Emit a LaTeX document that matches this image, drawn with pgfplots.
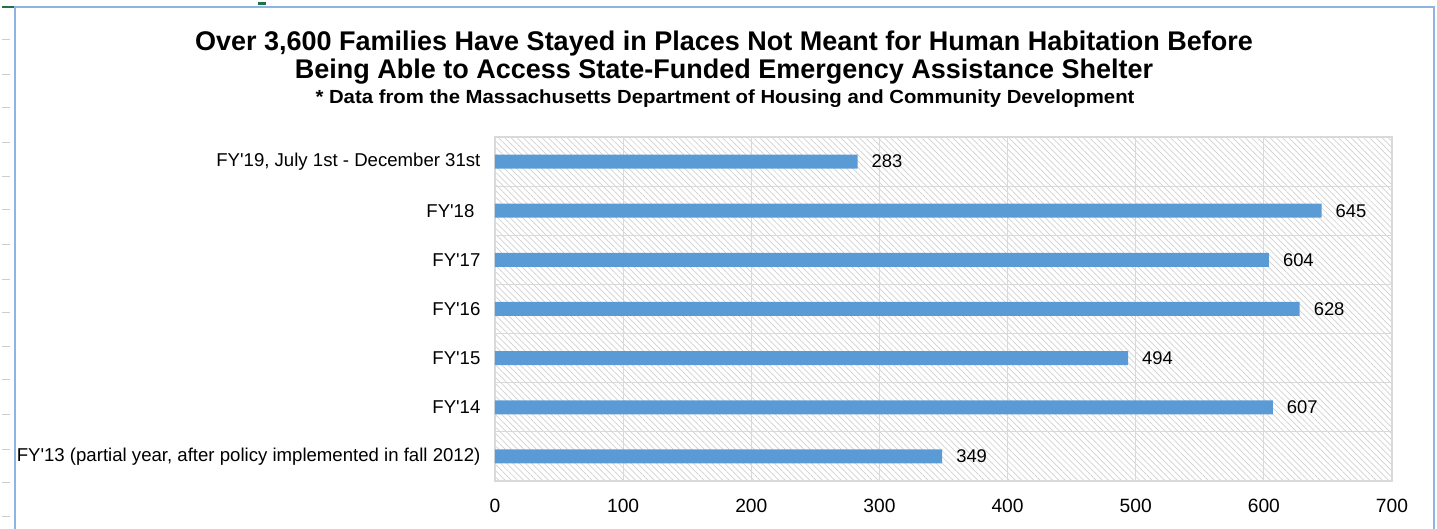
\documentclass[border=0pt]{standalone}
\usepackage{pgfplots}
\pgfplotsset{compat=1.18}
\usepackage{fontspec}
\setmainfont{Liberation Sans}[Ligatures=TeXOff]
\newfontfamily\subfont{Liberation Sans}[Ligatures=TeXOff,FakeStretch=1.07]
\usetikzlibrary{patterns.meta}
\definecolor{barblue}{HTML}{5B9BD5}
\definecolor{frameblue}{HTML}{8FB4E3}
\definecolor{gridgray}{HTML}{D9D9D9}
\definecolor{hatchgray}{HTML}{D0D0D0}
\definecolor{xlgreen}{HTML}{217346}
\begin{document}
\begin{tikzpicture}
\useasboundingbox (0,0) rectangle (718.5pt,264.5pt);
% spreadsheet artefacts
\fill[xlgreen] (1pt,260.5pt) rectangle (7.5pt,261.5pt);
\fill[xlgreen] (129pt,262pt) rectangle (133pt,263.5pt);
\foreach \yy in {20,37.5,54,71.5,88.5,105,122.5,140,156.5,173.5,190,207.5,225,241.5,258.5}
  \draw[gray!40,line width=0.5pt] (1pt,{264.5pt-\yy pt}) -- (5pt,{264.5pt-\yy pt});
% chart frame
\draw[frameblue,line width=0.8pt] (7.5pt,0pt) -- (7.5pt,261pt) -- (717pt,261pt) -- (717pt,0pt);
% titles
\node[font=\bfseries\fontsize{13.5}{15}\selectfont] at (362pt,242.5pt) {Over 3,600 Families Have Stayed in Places Not Meant for Human Habitation Before};
\node[font=\bfseries\fontsize{13.5}{15}\selectfont] at (362pt,228.5pt) {Being Able to Access State-Funded Emergency Assistance Shelter};
\node[font=\subfont\bfseries\fontsize{9.5}{11}\selectfont] at (362.5pt,215pt) {* Data from the Massachusetts Department of Housing and Community Development};
\begin{axis}[
  at={(247.5pt,24pt)}, anchor=south west,
  width=448.5pt, height=172pt, scale only axis,
  xbar, bar width=7pt,
  xmin=0, xmax=700,
  ymin=-0.5, ymax=6.5,
  xtick={0,100,...,700},
  ytick={0,1,2,3,4,5,6},
  yticklabels={{FY'13 (partial year, after policy implemented in fall 2012)},{FY'14},{FY'15},{FY'16},{FY'17},{FY'18\kern3pt},{FY'19, July 1st - December 31st}},
  minor ytick={0.5,1.5,2.5,3.5,4.5,5.5},
  xmajorgrids, yminorgrids,
  major grid style={gridgray,line width=0.6pt},
  minor grid style={gridgray,line width=0.6pt},
  axis line style={gridgray,line width=0.6pt},
  tick style={draw=none},
  minor tick style={draw=none},
  axis background/.style={pattern={Lines[angle=-45,distance=2.2pt,line width=0.35pt]},pattern color=hatchgray},
  /pgf/number format/assume math mode=true,
  yticklabel style={font=\fontsize{9.3}{11}\selectfont,xshift=0.5pt},
  xticklabel style={font=\fontsize{9.6}{11}\selectfont,yshift=-5.5pt},
  nodes near coords,
  nodes near coords style={anchor=west,xshift=3.5pt,font=\fontsize{9.2}{11}\selectfont,text=black},
  point meta=x,
]
\addplot[fill=barblue,draw=none] coordinates {(349,0) (607,1) (494,2) (628,3) (604,4) (645,5) (283,6)};
\end{axis}
\end{tikzpicture}
\end{document}
